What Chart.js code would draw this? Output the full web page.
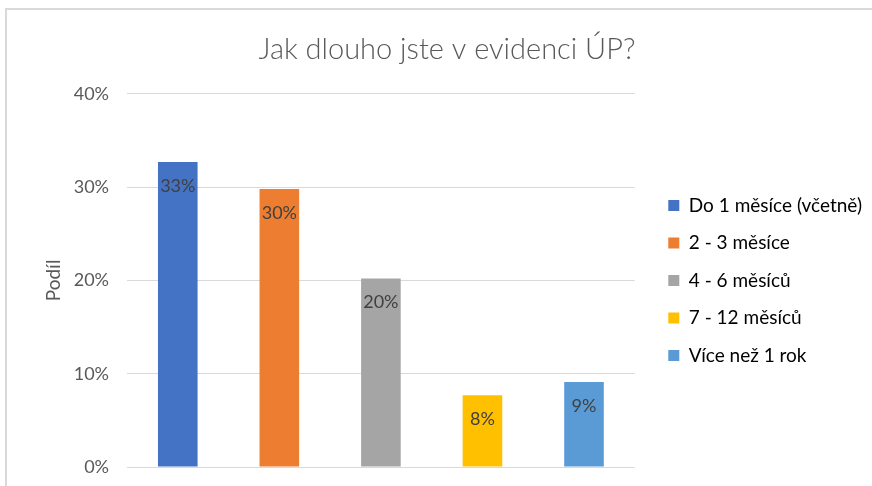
<!DOCTYPE html>
<html>
<head>
<meta charset="utf-8">
<script src="https://cdn.jsdelivr.net/npm/chart.js@4"></script>
<style>
  body { margin: 0; background: #fff; }
  #wrap { width: 872px; height: 486px; }
</style>
</head>
<body>
<div id="wrap"><canvas id="chart" width="872" height="486"></canvas></div>
<script>
// data
const categories = ["Do 1 měsíce (včetně)", "2 - 3 měsíce", "4 - 6 měsíců", "7 - 12 měsíců", "Více než 1 rok"];
const shares = [0.327, 0.298, 0.202, 0.077, 0.091];
const colors = ["#4472C4", "#ED7D31", "#A5A5A5", "#FFC000", "#5B9BD5"];
const yTicks = [0, 0.1, 0.2, 0.3, 0.4];

const FONT = "Lato, 'Open Sans', sans-serif";

// frame around the chart + value labels inside the bars
const extras = {
  id: "extras",
  beforeDraw(chart) {
    const c = chart.ctx;
    c.save();
    c.strokeStyle = "#d9d9d9";
    c.lineWidth = 2;
    c.beginPath();
    c.moveTo(6, 486);
    c.lineTo(6, 9);
    c.lineTo(872, 9);
    c.stroke();
    c.restore();
  },
  afterDatasetsDraw(chart) {
    const c = chart.ctx;
    const meta = chart.getDatasetMeta(0);
    c.save();
    c.font = "18px " + FONT;
    c.fillStyle = "#404040";
    c.textAlign = "center";
    c.textBaseline = "middle";
    meta.data.forEach((bar, i) => {
      c.fillText(Math.round(shares[i] * 100) + "%", bar.x, bar.y + 24);
    });
    c.restore();
  }
};

new Chart(document.getElementById("chart"), {
  type: "bar",
  data: {
    labels: categories,
    datasets: [{
      label: "Podíl",
      data: shares,
      backgroundColor: colors,
      borderWidth: 0,
      categoryPercentage: 1,
      barPercentage: 0.39
    }]
  },
  options: {
    responsive: false,
    animation: false,
    layout: { padding: { left: 22, right: 0, top: 10, bottom: 19 } },
    plugins: {
      title: {
        display: true,
        text: "Jak dlouho jste v evidenci ÚP?",
        color: "#595959",
        font: { family: FONT, size: 29, weight: "300" },
        padding: { top: 22, bottom: 27 }
      },
      legend: {
        position: "right",
        fullSize: false,
        maxWidth: 260,
        labels: {
          color: "#595959",
          font: { family: FONT, size: 19 },
          boxWidth: 11,
          boxHeight: 11,
          padding: 18.5,
          generateLabels: () => categories.map((name, i) => ({
            text: name,
            fillStyle: colors[i],
            strokeStyle: colors[i],
            lineWidth: 0,
            index: i
          }))
        }
      },
      tooltip: { enabled: false }
    },
    scales: {
      x: { display: false },
      y: {
        min: 0,
        max: 0.4,
        afterBuildTicks: (axis) => { axis.ticks = yTicks.map(v => ({ value: v })); },
        afterFit: (axis) => { axis.width = 105; },
        // invisible tick marks give the gap between labels and plot
        grid: { color: "#d9d9d9", lineWidth: 1, drawTicks: true, tickLength: 18, tickColor: "rgba(0,0,0,0)" },
        border: { display: false },
        ticks: {
          color: "#595959",
          font: { family: FONT, size: 18 },
          padding: 0,
          callback: (v) => Math.round(v * 100) + "%"
        },
        title: {
          display: true,
          text: "Podíl",
          color: "#595959",
          font: { family: FONT, size: 19 },
          padding: { top: 20, bottom: 0 }
        }
      },
      // empty axis on the right, only keeps a gap before the legend
      gap: {
        type: "linear",
        position: "right",
        display: true,
        afterFit: (axis) => { axis.width = 15; },
        grid: { display: false, drawTicks: false },
        border: { display: false },
        ticks: { display: false }
      }
    }
  },
  plugins: [extras]
});
</script>
</body>
</html>
